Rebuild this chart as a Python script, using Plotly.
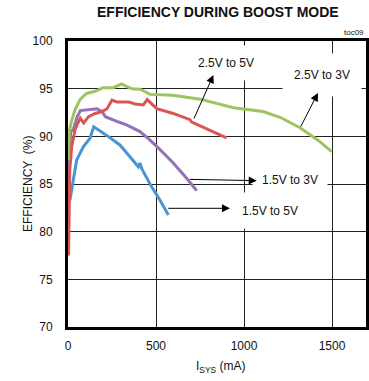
import plotly.graph_objects as go

# Boost-mode efficiency vs system current
isys_25_3 = [1, 8, 20, 40, 70, 106, 150, 200, 257, 305, 335, 362, 409, 466, 597, 750, 940, 1108, 1205, 1318, 1420, 1498]
eff_25_3 = [87.5, 90.6, 91.6, 92.8, 93.9, 94.5, 94.7, 95.1, 95.1, 95.5, 95.2, 95.0, 94.95, 94.4, 94.3, 93.9, 93.0, 92.6, 92.0, 90.9, 89.6, 88.4]

isys_25_5 = [3, 5, 10, 21, 40, 51, 70, 89, 117, 155, 193, 222, 250, 278, 345, 382, 428, 450, 480, 504, 598, 693, 703, 800, 901]
eff_25_5 = [77.5, 82.0, 86.5, 88.9, 90.7, 91.2, 91.9, 91.4, 92.06, 92.4, 92.6, 92.9, 93.8, 93.6, 93.6, 93.4, 93.3, 93.85, 93.3, 92.9, 92.4, 91.75, 91.5, 90.7, 89.85]

isys_15_3 = [2, 8, 15, 30, 51, 70, 117, 165, 193, 212, 288, 333, 409, 460, 523, 598, 674, 731]
eff_15_3 = [84.7, 88.0, 90.5, 90.7, 92.0, 92.7, 92.8, 92.9, 92.6, 92.06, 91.5, 91.2, 90.5, 89.7, 88.6, 87.2, 85.6, 84.3]

isys_15_5 = [11, 30, 49, 87, 125, 146, 163, 220, 295, 362, 400, 409, 419, 475, 523, 570]
eff_15_5 = [83.3, 85.4, 87.5, 88.9, 89.8, 91.0, 90.8, 90.1, 89.1, 87.7, 86.8, 87.2, 86.6, 84.7, 83.3, 81.75]

x_ticks = [0, 500, 1000, 1500]
y_ticks = [70, 75, 80, 85, 90, 95, 100]

FONT = "Liberation Sans, Arial, sans-serif"

series = [
    (isys_15_5, eff_15_5, "#4A94D4", "1.5V to 5V"),
    (isys_15_3, eff_15_3, "#9472B8", "1.5V to 3V"),
    (isys_25_5, eff_25_5, "#DA5650", "2.5V to 5V"),
    (isys_25_3, eff_25_3, "#9DC45F", "2.5V to 3V"),
]

fig = go.Figure()
for xs, ys, color, name in series:
    fig.add_trace(go.Scatter(x=xs, y=ys, mode="lines", name=name,
                             line=dict(color=color, width=3), showlegend=False))

axis_common = dict(
    showline=True, linecolor="black", linewidth=3, mirror=True,
    showgrid=True, gridcolor="#222", gridwidth=1,
    zeroline=False, ticks="",
    tickfont=dict(family=FONT, size=12, color="#111"),
)

fig.update_xaxes(range=[0, 1693], tickvals=x_ticks, ticklabelstandoff=6, **axis_common)
fig.update_yaxes(range=[70, 100], tickvals=y_ticks, ticklabelstandoff=10, **axis_common)

annotations = []

# curve labels on white boxes
labels = [
    ("2.5V to 5V", 898, 97.72, 64, 32),
    ("2.5V to 3V", 1443, 96.43, 76, 40),
    ("1.5V to 3V", 1261, 85.42, 72, 30),
    ("1.5V to 5V", 1148, 82.27, 68, 33),
]
for text, lx, ly, w, h in labels:
    annotations.append(dict(x=lx, y=ly, xref="x", yref="y", text=text, showarrow=False,
                            bgcolor="white", width=w, height=h,
                            font=dict(family=FONT, size=12, color="#111")))

# leader arrows from each curve toward its label
arrows = [
    (826, 96.43, 712, 91.71),
    (1420, 94.55, 1318, 90.87),
    (1072, 85.35, 684, 85.49),
    (920, 82.45, 561, 82.45),
]
for tx, ty, sx, sy in arrows:
    annotations.append(dict(x=tx, y=ty, ax=sx, ay=sy, xref="x", yref="y", axref="x", ayref="y",
                            text="", showarrow=True, arrowhead=2, arrowsize=1.6,
                            arrowwidth=1, arrowcolor="black", standoff=0, startstandoff=0))

annotations += [
    dict(x=0.502, y=1.103, xref="paper", yref="paper", text="<b>EFFICIENCY DURING BOOST MODE</b>",
         showarrow=False, yanchor="middle", font=dict(family=FONT, size=14, color="#111")),
    dict(x=1.0, y=1.028, xref="paper", yref="paper", text="toc09", xanchor="right",
         showarrow=False, yanchor="middle", font=dict(family=FONT, size=8, color="#111")),
    dict(x=-0.1644, y=0.5, xref="paper", yref="paper", text="EFFICIENCY  (%)", textangle=-90,
         showarrow=False, font=dict(family=FONT, size=12, color="#111")),
    dict(x=0.513, y=-0.14, xref="paper", yref="paper", text="I<sub>SYS</sub> (mA)",
         showarrow=False, yanchor="middle", font=dict(family=FONT, size=12, color="#111")),
]

fig.update_layout(
    width=369, height=381,
    margin=dict(l=68, r=3, t=41, b=54, autoexpand=False),
    paper_bgcolor="white", plot_bgcolor="white",
    annotations=annotations,
)

fig.write_html("out.html")
